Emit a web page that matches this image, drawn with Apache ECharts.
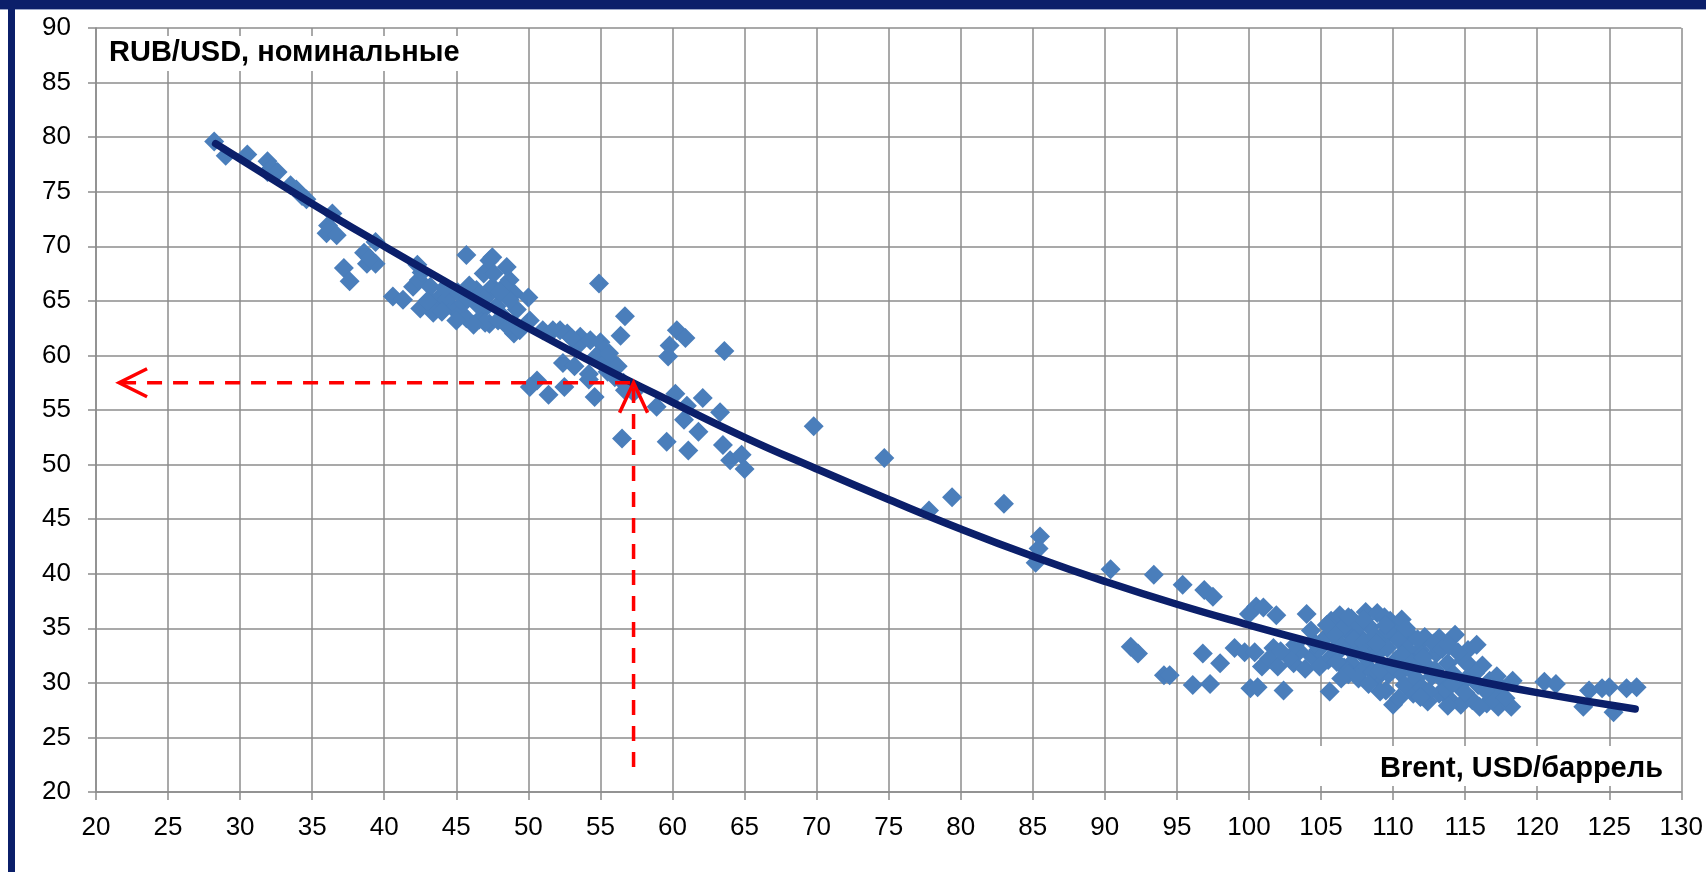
<!DOCTYPE html>
<html>
<head>
<meta charset="utf-8">
<script src="https://cdn.jsdelivr.net/npm/echarts@6/dist/echarts.min.js"></script>
<style>
html,body{margin:0;padding:0;background:#fff;}
#chart{width:1706px;height:872px;}
</style>
</head>
<body>
<div id="chart"></div>
<script>
// ---- tick labels / axis ranges ----
const xMin = 20, xMax = 130, xStep = 5;
const yMin = 20, yMax = 90, yStep = 5;
const yAxisTitle = 'RUB/USD, номинальные';
const xAxisTitle = 'Brent, USD/баррель';

// ---- scatter points: [Brent USD/bbl, RUB/USD] ----
const pointsLowOil = [
[28.2,79.6],[29.0,78.3],[30.5,78.4],[31.9,77.8],[32.2,77.2],[31.9,76.8],[32.6,76.8],[33.5,75.6],[33.9,75.2],[34.3,74.6],[34.6,74.3],
[36.4,73.0],[36.1,71.9],[36.0,71.2],[36.7,71.0],[37.2,68.0],[37.6,66.8],[38.6,69.4],[38.8,68.4],[39.4,68.4],[39.4,70.4],[39.0,68.9]
];
const points40to50 = [
[40.6,65.4],[41.3,65.1],[42.0,66.3],[42.4,66.9],[42.3,68.3],[42.6,67.6],[43.2,66.3],[43.4,64.8],[43.9,65.4],[44.3,65.1],[44.8,64.3],
[45.3,63.9],[45.7,63.4],[45.5,64.8],[46.2,65.1],[46.4,66.0],[46.9,64.2],[47.1,65.4],[47.5,66.3],[47.8,64.5],[47.3,62.9],[48.3,63.5],
[48.7,66.9],[49.0,65.7],[49.2,64.2],[49.0,62.0],[45.7,69.2],[47.5,69.0],[48.5,68.1],[46.9,67.5],[47.3,68.7],[47.6,67.5],[48.3,66.3],
[48.7,65.1],[42.5,64.3],[43.4,63.9],[44.0,64.0],[44.6,65.5],[45.1,65.8],[45.9,66.4],[46.6,63.3],[47.0,63.0],[47.9,63.2],[48.6,62.6],
[49.4,62.3],[44.2,66.2],[43.0,65.0],[45.0,63.2],[46.2,62.8],[48.0,65.8],[46.5,64.6],[45.8,65.2]
];
const points50to65 = [
[50.0,65.3],[50.1,63.2],[51.0,62.3],[51.7,62.3],[52.2,62.3],[52.7,62.0],[53.6,61.7],[53.5,61.0],[54.3,61.4],[55.0,61.2],[55.2,60.5],
[55.7,59.6],[54.7,59.9],[52.4,59.3],[53.2,59.0],[54.2,58.3],[50.6,57.7],[50.1,57.1],[51.4,56.4],[52.5,57.1],[54.6,56.2],[56.7,56.8],
[56.5,52.4],[54.9,66.6],[56.7,63.6],[56.4,61.8],[60.3,62.3],[60.9,61.6],[59.8,60.9],[59.7,59.9],[63.6,60.4],[55.5,58.5],[56.0,58.0],
[56.6,57.5],[55.2,59.2],[57.3,56.6],[58.9,55.3],[60.2,56.5],[61.0,55.4],[62.1,56.1],[60.8,54.1],[61.8,53.0],[63.3,54.8],[59.6,52.1],
[61.1,51.3],[63.5,51.8],[64.0,50.4],[64.8,50.9],[65.0,49.6],[54.2,57.8],[53.0,61.6],[55.6,60.2],[56.2,59.0]
];
const points65to100 = [
[69.8,53.5],[74.7,50.6],[77.8,45.8],[79.4,47.0],[83.0,46.4],[85.2,41.0],[85.5,43.4],[85.4,42.3],[90.4,40.4],[93.4,39.9],[95.4,39.0],
[96.9,38.5],[97.5,37.9],[91.8,33.3],[92.3,32.7],[94.1,30.7],[94.5,30.7],[96.1,29.8],[97.3,29.9],[96.8,32.7],[98.0,31.8],[99.0,33.2],[99.7,32.8]
];
const pointsHighOil = [
[100.0,36.3],[100.5,37.0],[101.0,36.9],[101.9,36.2],[104.0,36.3],[100.4,32.8],[100.1,29.5],[100.6,29.6],[101.7,33.2],[102.4,29.3],
[105.6,29.2],[100.9,31.5],[101.4,32.2],[102.0,31.5],[103.1,31.8],[103.9,31.3],[104.4,32.4],[105.5,32.1],[105.7,35.7],[106.3,36.2],
[107.1,35.9],[108.1,36.5],[108.9,36.4],[109.8,35.7],[110.3,35.3],[111.1,34.5],[113.2,34.1],[114.3,34.4],[115.8,33.5],[108.4,35.1],
[106.8,34.7],[106.3,33.6],[107.1,31.8],[107.9,31.2],[108.4,33.0],[108.9,30.5],[109.5,29.3],[110.0,28.0],[109.2,33.9],[110.0,34.5],
[110.8,33.6],[111.4,32.4],[111.9,33.0],[112.4,31.5],[113.0,32.7],[113.8,31.8],[114.9,32.1],[115.4,31.5],[111.4,29.0],[112.4,28.3],
[113.2,29.0],[114.0,28.4],[114.7,28.0],[115.5,28.4],[116.5,28.1],[117.3,27.8],[118.2,27.8],[116.7,30.2],[117.5,29.6],[118.3,30.2],
[120.5,30.1],[121.3,29.9],[123.2,27.8],[123.6,29.3],[124.5,29.5],[125.0,29.6],[125.3,27.3],[126.2,29.5],[126.9,29.6],
[104.8,33.0],[105.2,34.0],[106.0,32.6],[106.6,31.4],[107.4,32.9],[107.7,34.2],[108.2,32.2],[108.6,31.0],[109.0,32.8],[109.3,31.6],
[109.7,30.8],[110.2,32.1],[110.5,30.9],[110.8,29.8],[111.2,31.2],[111.6,30.4],[112.0,29.6],[112.7,30.6],[113.5,30.2],[114.2,30.8],
[114.6,29.6],[115.1,30.4],[115.9,29.8],[116.2,31.6],[117.0,28.6],[112.2,34.2],[112.8,33.6],[110.6,35.8],[109.4,36.0],[107.6,35.2],
[106.5,35.0],[105.9,34.4],[104.6,33.6],[103.5,32.9],[102.8,32.3],[102.2,32.9],[109.1,29.2],[110.4,28.6],[113.8,27.9],[116.0,27.8],
[115.2,33.0],[114.5,32.8],[113.4,33.1],
[106.9,33.2],[107.3,34.0],[108.0,33.7],[108.7,34.3],[109.6,34.8],[110.4,33.9],[111.0,33.1],[111.7,34.0],[106.1,31.9],[106.9,30.8],
[107.6,30.4],[108.3,29.9],[109.1,31.1],[109.9,31.6],[110.6,32.6],[111.3,31.8],[112.1,32.3],[112.9,31.2],[113.6,29.4],[114.1,29.9],
[115.0,29.1],[115.7,30.9],[116.4,29.3],[117.2,30.6],[117.8,28.6],[112.5,29.2],[111.9,28.7],[109.6,33.2],[108.8,33.6],[107.9,32.6],
[110.9,35.0],[109.5,35.3],[108.0,35.8],[106.9,36.0],[105.4,35.3],[104.3,34.8],[103.2,33.5],[104.9,31.5],[106.4,30.4],[113.9,33.4]
];

// ---- trend curve ----
const trendX = [28.3,30,35,40,45,50,55,60,65,70,75,80,85,90,95,100,105,110,115,120,126.8];
const trendY = [79.4,78.0,73.9,70.0,66.2,62.5,59.0,55.7,52.5,49.6,46.8,44.1,41.6,39.3,37.2,35.3,33.5,31.8,30.4,29.1,27.6];

// ---- red dashed read-off annotation ----
const annotX = 57.3, annotY = 57.5;       // point on the curve
const annotLeftX = 21.6, annotBottomY = 22.3; // ends of the dashed guides

const scatterData = [].concat(pointsLowOil, points40to50, points50to65, points65to100, pointsHighOil);
const trendData = trendX.map((x, i) => [x, trendY[i]]);

const NAVY = '#0b1f6a';
const GRID = '#8c8c8c';
const tickFont = "'Liberation Sans Narrow', 'Arial Narrow', 'Liberation Sans', sans-serif";

const chart = echarts.init(document.getElementById('chart'), null, {renderer: 'canvas'});
chart.setOption({
  animation: false,
  backgroundColor: '#ffffff',
  grid: {left: 96, right: 24, top: 28, bottom: 80, containLabel: false},
  xAxis: {
    type: 'value', min: xMin, max: xMax, interval: xStep,
    axisLine: {show: true, lineStyle: {color: GRID, width: 1.5}},
    axisTick: {show: true, length: 8, lineStyle: {color: GRID, width: 1.5}},
    axisLabel: {color: '#000', fontSize: 26, fontFamily: tickFont, margin: 23},
    splitLine: {show: true, showMinLine: true, showMaxLine: true, lineStyle: {color: GRID, width: 1.5}}
  },
  yAxis: {
    type: 'value', min: yMin, max: yMax, interval: yStep,
    axisLine: {show: true, lineStyle: {color: GRID, width: 1.5}},
    axisTick: {show: true, length: 8, lineStyle: {color: GRID, width: 1.5}},
    axisLabel: {color: '#000', fontSize: 26, fontFamily: tickFont, margin: 25},
    splitLine: {show: true, showMinLine: true, showMaxLine: true, lineStyle: {color: GRID, width: 1.5}}
  },
  graphic: [
    {type: 'rect', left: 0, top: 0, shape: {width: 1706, height: 9}, style: {fill: NAVY}, z: 100},
    {type: 'rect', left: 0, top: 9, shape: {width: 1706, height: 1}, style: {fill: '#9aa6c8'}, z: 100},
    {type: 'rect', left: 8, top: 0, shape: {width: 7, height: 872}, style: {fill: NAVY}, z: 100},
    {type: 'rect', left: 100, top: 36, shape: {width: 384, height: 35}, style: {fill: '#fff'}, z: 50},
    {type: 'text', left: 109, top: 38, style: {text: yAxisTitle, fill: '#000', font: "bold 29px 'Liberation Sans', Arial, sans-serif"}, z: 51},
    {type: 'rect', left: 1300, top: 746, shape: {width: 372, height: 40}, style: {fill: '#fff'}, z: 50},
    {type: 'text', left: 1380, top: 754, style: {text: xAxisTitle, fill: '#000', font: "bold 29px 'Liberation Sans', Arial, sans-serif"}, z: 51}
  ],
  series: [
    {
      type: 'scatter', data: scatterData, symbol: 'diamond', symbolSize: 20,
      itemStyle: {color: '#4a7ebb', opacity: 1}, z: 3, silent: true
    },
    {
      type: 'line', data: trendData, smooth: true, showSymbol: false, symbol: 'none',
      lineStyle: {color: NAVY, width: 7.5, cap: 'round', join: 'round'}, z: 4, silent: true
    },
    {
      type: 'custom', data: [[annotX, annotY]], z: 5, silent: true,
      renderItem: function (params, api) {
        const p = api.coord([annotX, annotY]);
        const l = api.coord([annotLeftX, annotY]);
        const b = api.coord([annotX, annotBottomY]);
        const red = {stroke: '#ff0000', lineWidth: 3.5, fill: null};
        return {
          type: 'group',
          children: [
            {type: 'line', shape: {x1: l[0] + 2, y1: l[1], x2: p[0], y2: p[1]}, style: Object.assign({lineDash: [15, 11]}, red)},
            {type: 'polyline', shape: {points: [[l[0] + 28, l[1] - 14], [l[0], l[1]], [l[0] + 28, l[1] + 14]]}, style: red},
            {type: 'line', shape: {x1: b[0], y1: b[1], x2: p[0], y2: p[1] + 2}, style: Object.assign({lineDash: [15, 11]}, red)},
            {type: 'polyline', shape: {points: [[p[0] - 14, p[1] + 30], [p[0], p[1]], [p[0] + 14, p[1] + 30]]}, style: red}
          ]
        };
      }
    }
  ]
});
</script>
</body>
</html>
